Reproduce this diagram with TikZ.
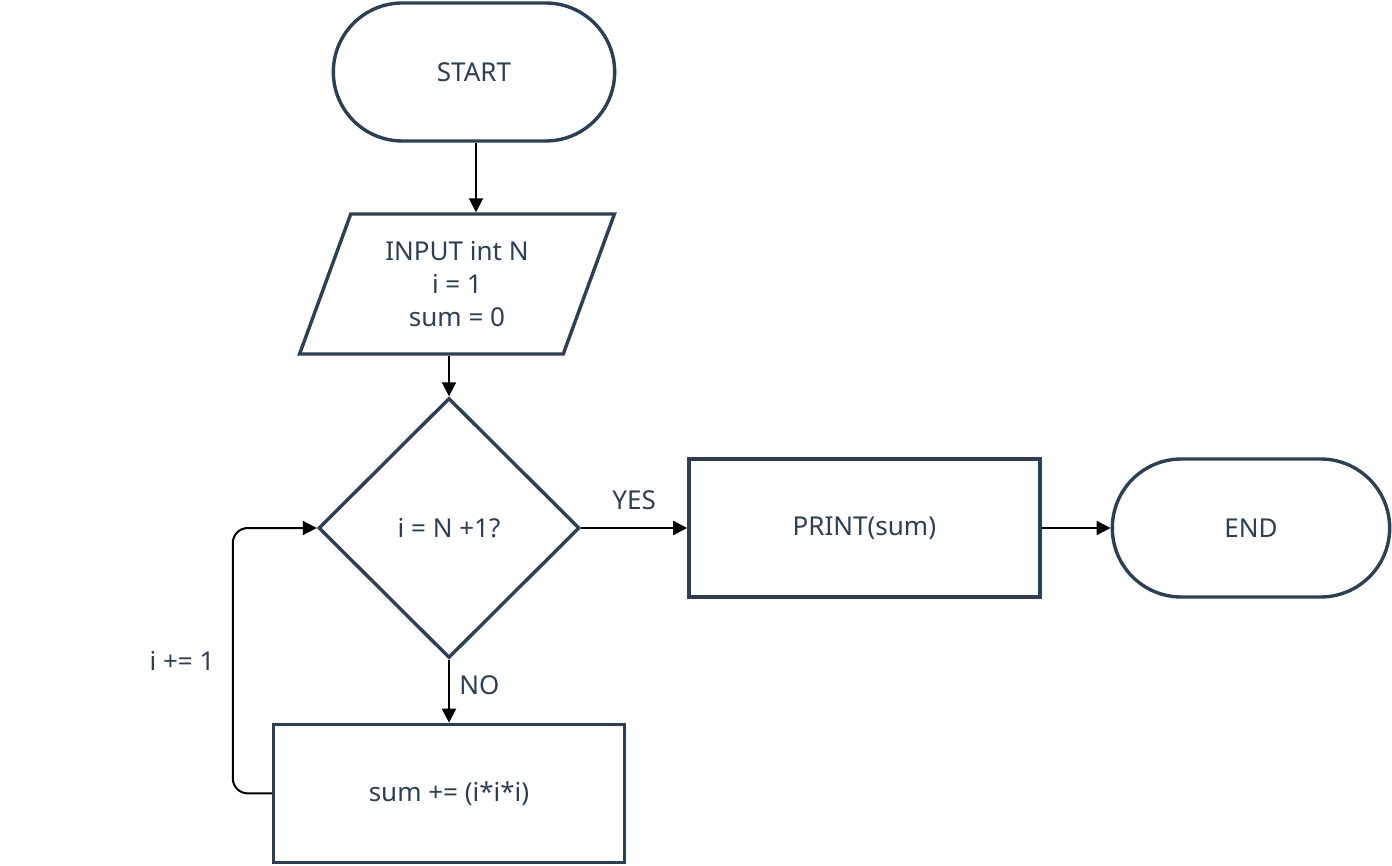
\documentclass[tikz,border=0pt]{standalone}
\usepackage{fontspec}
\setmainfont{Noto Sans}
\usetikzlibrary{positioning,shapes.geometric,shapes.misc,arrows.meta}
\definecolor{navy}{HTML}{2B3F56}

\begin{document}
\begin{tikzpicture}[x=1pt, y=-1pt,
    every node/.style={font=\fontsize{26}{33}\selectfont, text=navy},
    term/.style={rounded rectangle, draw=navy, line width=3.4pt, minimum height=138pt},
    io/.style={trapezium, trapezium left angle=68.6, trapezium right angle=111.4,
      trapezium stretches=true, draw=navy, line width=3.4pt, align=center},
    decide/.style={diamond, draw=navy, line width=3.4pt, inner sep=0pt},
    proc/.style={rectangle, draw=navy, line width=3.4pt, minimum width=351pt, minimum height=138pt},
    flow/.style={draw=black, line width=2pt, -{Triangle[length=14pt, width=14pt]}}]
    \useasboundingbox (0,0) rectangle (1392,866);
    \node[term, minimum width=288pt] (start) at (474,72) {START} ; %
    \node[io, minimum width=315pt, minimum height=140pt] (inp) at (457,284) {INPUT int N\\i = 1\\sum = 0} ; %
    \node[decide, minimum width=261pt, minimum height=260pt] (dec) at (449,528) {i = N +1?} ; %
    \node[proc, right=106pt of dec] (prt) {PRINT(sum)} ; %
    \node[term, right=69pt of prt, minimum width=284pt] (stop) {END} ; %
    \node[proc, below=63pt of dec] (acc) {sum += (i*i*i)} ; %
    \draw[flow] ([xshift=2pt]start.south) -- ([xshift=2pt]start.south |- inp.north);
    \draw[flow] (dec.north |- inp.south) -- (dec.north);
    \draw[flow] (dec.east) -- node[above=14pt] {YES} (prt.west);
    \draw[flow] (prt.east) -- (stop.west);
    \draw[flow] (dec.south) -- node[pos=0.4, right=6pt] {NO} (acc.north);
    \draw[flow, rounded corners=15pt] (acc.west) -- ++(-39,0) |- node[pos=0.25, left=14pt] {i += 1} (dec.west);
\end{tikzpicture}
\end{document}
